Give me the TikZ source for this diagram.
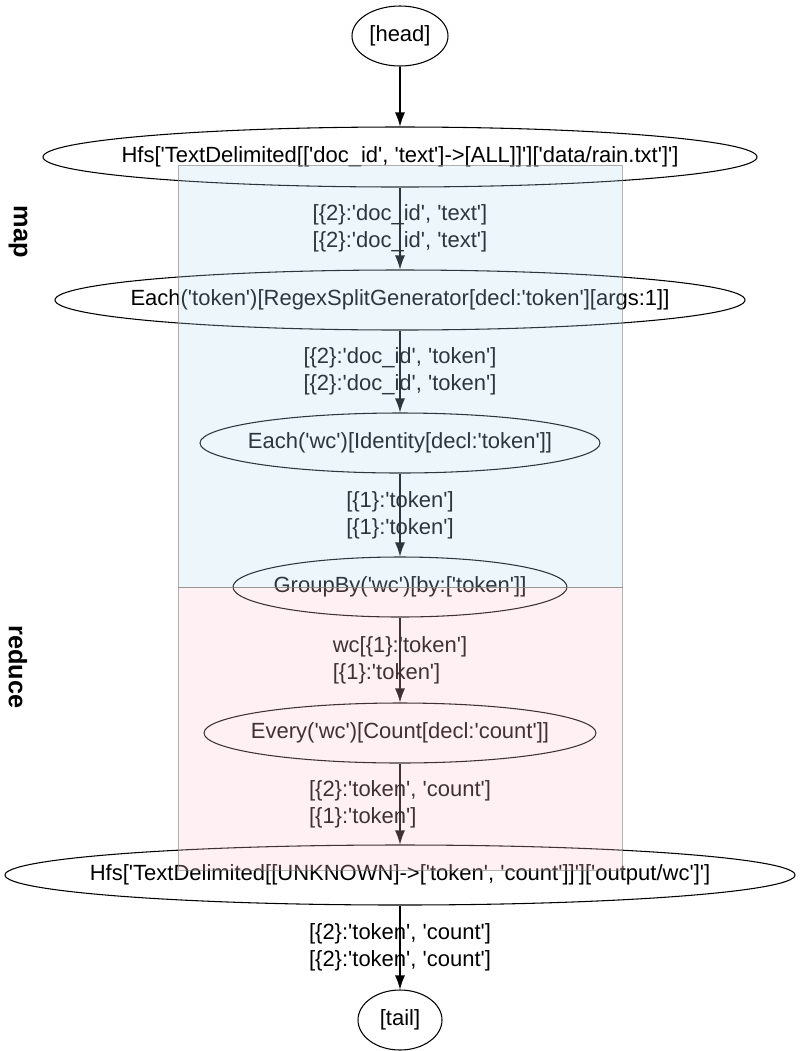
\documentclass[tikz,border=0pt]{standalone}
\usepackage{fontspec}
\setmainfont{Liberation Sans}[Ligatures=TeXOff]
\usetikzlibrary{shapes.geometric, arrows.meta}
\definecolor{mapfill}{RGB}{178,218,240}
\definecolor{redfill}{RGB}{255,196,208}
\newcommand{\optext}[1]{\makebox[0pt]{#1}}

\begin{document}
\begin{tikzpicture}[x=0.75pt, y=-0.75pt, >={Latex[length=10.5pt,width=7.5pt]},
  font=\fontsize{16.5}{20.25}\selectfont,
  op/.style={ellipse, draw, line width=0.8pt, inner sep=0pt, minimum height=45pt},
  lab/.style={align=center, inner sep=0pt},
  flow/.style={->, line width=0.8pt},
  phasebox/.style={fill opacity=0.25, draw=gray, draw opacity=0.6, line width=0.5pt},
  phase/.style={font=\fontsize{19}{22}\selectfont\bfseries, rotate=-90}]
  \useasboundingbox (0,0) rectangle (800,1051);
  \node (head) at (400,36) [op, minimum width=72pt] {[head]};
  \node (src) at (400,157) [op, minimum width=535.5pt]
    {\optext{Hfs['TextDelimited[['doc\_id', 'text']->[ALL]]']['data/rain.txt']']}};
  \node (tok) at (400,300) [op, minimum width=517.5pt]
    {\optext{Each('token')[RegexSplitGenerator[decl:'token'][args:1]]}};
  \node (wc) at (400,443) [op, minimum width=300pt]
    {\optext{Each('wc')[Identity[decl:'token']]}};
  \node (grp) at (400,587) [op, minimum width=250.5pt]
    {\optext{GroupBy('wc')[by:['token']]}};
  \node (cnt) at (400,733) [op, minimum width=294pt]
    {\optext{Every('wc')[Count[decl:'count']]}};
  \node (sink) at (400,875) [op, minimum width=592.5pt]
    {\optext{Hfs['TextDelimited[[UNKNOWN]->['token', 'count']]']['output/wc']']}};
  \node (tail) at (400,1020) [op, minimum width=63pt] {[tail]};
  \draw [flow] (head) -- (src);
  \draw [flow] (src) -- node [lab] {[\{2\}:'doc\_id', 'text']\\{}[\{2\}:'doc\_id', 'text']} (tok);
  \draw [flow] (tok) -- node [lab] {[\{2\}:'doc\_id', 'token']\\{}[\{2\}:'doc\_id', 'token']} (wc);
  \draw [flow] (wc) -- node [lab] {[\{1\}:'token']\\{}[\{1\}:'token']} (grp);
  \draw [flow] (grp) -- node [lab, align=left] {wc[\{1\}:'token']\\{}[\{1\}:'token']} (cnt);
  \draw [flow] (cnt) -- node [lab, align=left] {[\{2\}:'token', 'count']\\{}[\{1\}:'token']} (sink);
  \draw [flow] (sink) -- node [lab] {[\{2\}:'token', 'count']\\{}[\{2\}:'token', 'count']} (tail);
  \draw [phasebox, fill=mapfill] (178,165) rectangle (622,587);
  \draw [phasebox, fill=redfill] (178,587) rectangle (622,870);
  \node (map) at (18,232) [phase] {map};
  \node (reduce) at (18,667) [phase] {reduce};
\end{tikzpicture}
\end{document}
